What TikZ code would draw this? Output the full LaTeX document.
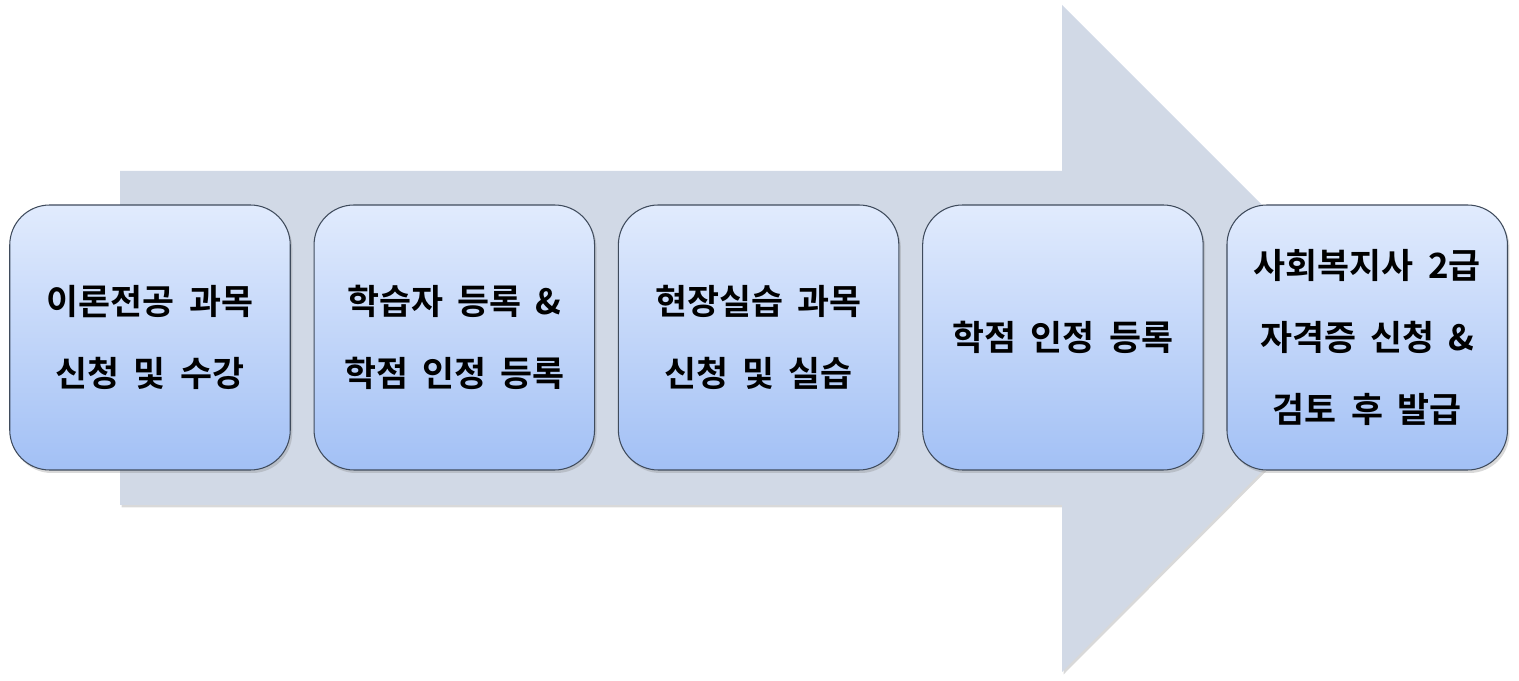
\documentclass[tikz,border=0pt]{standalone}
\usepackage{fontspec}
\newfontfamily\krfont{Noto Sans CJK KR}[BoldFont={* Bold}, WordSpace=1.8]
\usetikzlibrary{positioning,shadows}
\definecolor{arrowgray}{HTML}{D1D9E6}
\definecolor{boxtop}{HTML}{E1EBFD}
\definecolor{boxbottom}{HTML}{A2C0F5}
\definecolor{boxline}{HTML}{3F4B5C}

\begin{document}
\begin{tikzpicture}[font=\krfont\bfseries\fontsize{19.8}{41}\selectfont,
  stage/.style={draw=boxline, line width=0.6pt, rounded corners=0.8cm,
    top color=boxtop, bottom color=boxbottom, minimum width=5.61cm,
    minimum height=5.3cm, align=center,
    drop shadow={shadow xshift=0.04cm, shadow yshift=-0.06cm, opacity=0.3}}]
  \useasboundingbox (0,0) rectangle (30.38,13.62);
  \fill[arrowgray, drop shadow={shadow xshift=0.03cm, shadow yshift=-0.05cm, opacity=0.3}]
    (2.40,10.20) -- (21.24,10.20) -- (21.24,13.52) -- (27.90,6.86)
    -- (21.24,0.18) -- (21.24,3.52) -- (2.40,3.52) -- cycle;
  \node[stage] (s1) at (3.0,6.87) {이론전공 과목\\신청 및 수강};
  \node[stage, right=0.455cm of s1] (s2) {학습자 등록 \&\\학점 인정 등록};
  \node[stage, right=0.455cm of s2] (s3) {현장실습 과목\\신청 및 실습};
  \node[stage, right=0.455cm of s3] (s4) {학점 인정 등록};
  \node[stage, right=0.455cm of s4] (s5) {사회복지사 2급\\자격증 신청 \&\\검토 후 발급};
\end{tikzpicture}
\end{document}
